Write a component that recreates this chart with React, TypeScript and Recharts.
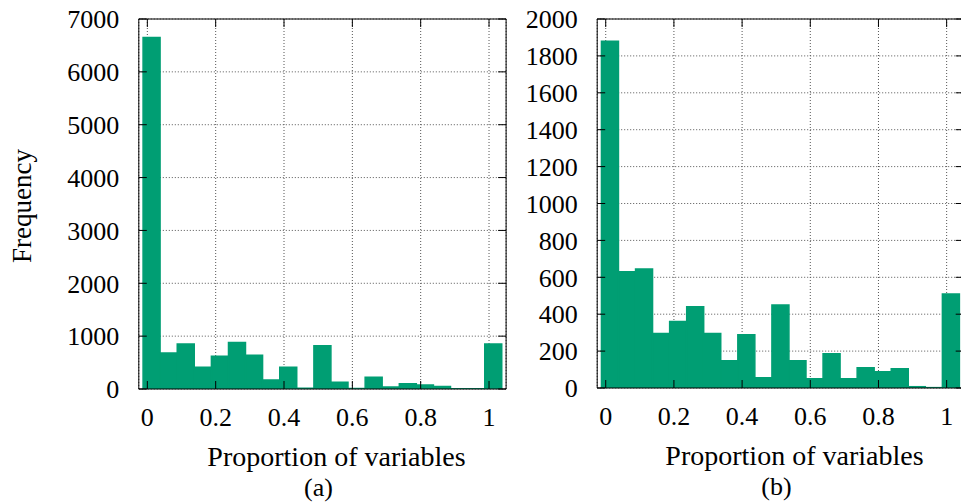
import { Bar, BarChart, CartesianGrid, Label, XAxis, YAxis } from "recharts";

// bin centres (proportion of variables), shared by both panels
const binCenters = [
  0.0125, 0.0625, 0.1125, 0.1625, 0.2125, 0.2625, 0.3125, 0.3625, 0.4125,
  0.4625, 0.5125, 0.5625, 0.6125, 0.6625, 0.7125, 0.7625, 0.8125, 0.8625,
  0.9125, 0.9625, 1.0125,
];

const freqA = [
  6650, 680, 850, 410, 620, 880, 640, 170, 410, 15, 820, 130, 10, 220, 40, 100,
  75, 45, 5, 3, 850,
];

const freqB = [
  1880, 630, 645, 295, 360, 440, 295, 148, 288, 55, 450, 148, 50, 185, 50, 110,
  88, 105, 7, 2, 510,
];

const xTicks = [0, 0.2, 0.4, 0.6, 0.8, 1];
const yTicksA = [0, 1000, 2000, 3000, 4000, 5000, 6000, 7000];
const yTicksB = [0, 200, 400, 600, 800, 1000, 1200, 1400, 1600, 1800, 2000];

const FONT = "Liberation Serif, Times New Roman, serif";
const GREEN = "#009E73";
const H = 503;

const tickStyle = { fontFamily: FONT, fontSize: 26, fill: "#000" };
const EmptyTick = () => <g />;

type PanelProps = {
  freq: number[];
  yTicks: number[];
  yMax: number;
  left: number;
  width: number;
  axisWidth: number;
  plotBottom: number;
  marginRight: number;
  caption: string;
  showYLabel?: boolean;
};

const Panel = ({
  freq,
  yTicks,
  yMax,
  left,
  width,
  axisWidth,
  plotBottom,
  marginRight,
  caption,
  showYLabel,
}: PanelProps) => {
  const data = binCenters.map((x, i) => ({ x, count: freq[i] }));

  const renderCaption = (props: any) => {
    const vb = props.viewBox || {};
    const cx = vb.x + vb.width / 2;
    return (
      <g fontFamily={FONT} fill="#000">
        <text x={cx + 14} y={vb.y + 77} textAnchor="middle" fontSize={28}>
          Proportion of variables
        </text>
        <text x={cx - 4} y={vb.y + 107} textAnchor="middle" fontSize={26}>
          {caption}
        </text>
      </g>
    );
  };

  const renderYLabel = (props: any) => {
    const vb = props.viewBox || {};
    const cy = vb.y + vb.height / 2 + 2;
    return (
      <text
        x={22}
        y={cy}
        transform={`rotate(-90, 22, ${cy})`}
        textAnchor="middle"
        dominantBaseline="central"
        fontFamily={FONT}
        fontSize={27}
        fill="#000"
      >
        Frequency
      </text>
    );
  };

  return (
    <div style={{ position: "absolute", left, top: 0, fontFamily: FONT }}>
      <BarChart
        width={width}
        height={H}
        data={data}
        margin={{ top: 18, right: marginRight - 1, bottom: 0, left: 0 }}
        barCategoryGap={0}
        style={{ fontFamily: FONT }}
      >
        <CartesianGrid stroke="#555" strokeDasharray="1 2" />
        {/* stroke in the fill colour hides the hairline seams between bins */}
        <Bar
          dataKey="count"
          fill={GREEN}
          stroke={GREEN}
          strokeWidth={1.5}
          barSize={17}
          isAnimationActive={false}
        />
        <XAxis
          dataKey="x"
          type="number"
          domain={[-0.025, 1.05]}
          ticks={xTicks}
          interval={0}
          allowDataOverflow
          height={H - plotBottom}
          tickSize={-8}
          tickMargin={26.5}
          tick={tickStyle}
          stroke="#000"
          tickFormatter={(v: number) => String(v)}
        >
          <Label content={renderCaption} />
        </XAxis>
        <XAxis
          xAxisId="top"
          orientation="top"
          dataKey="x"
          type="number"
          domain={[-0.025, 1.05]}
          ticks={xTicks}
          interval={0}
          allowDataOverflow
          height={1}
          tickSize={-8}
          tick={EmptyTick}
          stroke="#000"
        />
        <YAxis
          type="number"
          domain={[0, yMax]}
          ticks={yTicks}
          interval={0}
          allowDataOverflow
          width={axisWidth}
          tickSize={-8}
          tickMargin={27.5}
          tick={tickStyle}
          stroke="#000"
        >
          {showYLabel ? <Label content={renderYLabel} /> : null}
        </YAxis>
        <YAxis
          yAxisId="right"
          orientation="right"
          type="number"
          domain={[0, yMax]}
          ticks={yTicks}
          interval={0}
          allowDataOverflow
          width={1}
          tickSize={-8}
          tick={EmptyTick}
          stroke="#000"
        />
      </BarChart>
    </div>
  );
};

export default function App() {
  return (
    <div
      style={{
        position: "absolute",
        left: 0,
        top: 0,
        width: 961,
        height: H,
        overflow: "hidden",
        background: "#fff",
      }}
    >
      <Panel
        freq={freqA}
        yTicks={yTicksA}
        yMax={7000}
        left={0}
        width={520}
        axisWidth={138.8}
        plotBottom={389}
        marginRight={520 - 506.1}
        caption="(a)"
        showYLabel
      />
      <Panel
        freq={freqB}
        yTicks={yTicksB}
        yMax={2000}
        left={520}
        width={470}
        axisWidth={77.2}
        plotBottom={388}
        marginRight={470 - 443.7}
        caption="(b)"
      />
    </div>
  );
}
